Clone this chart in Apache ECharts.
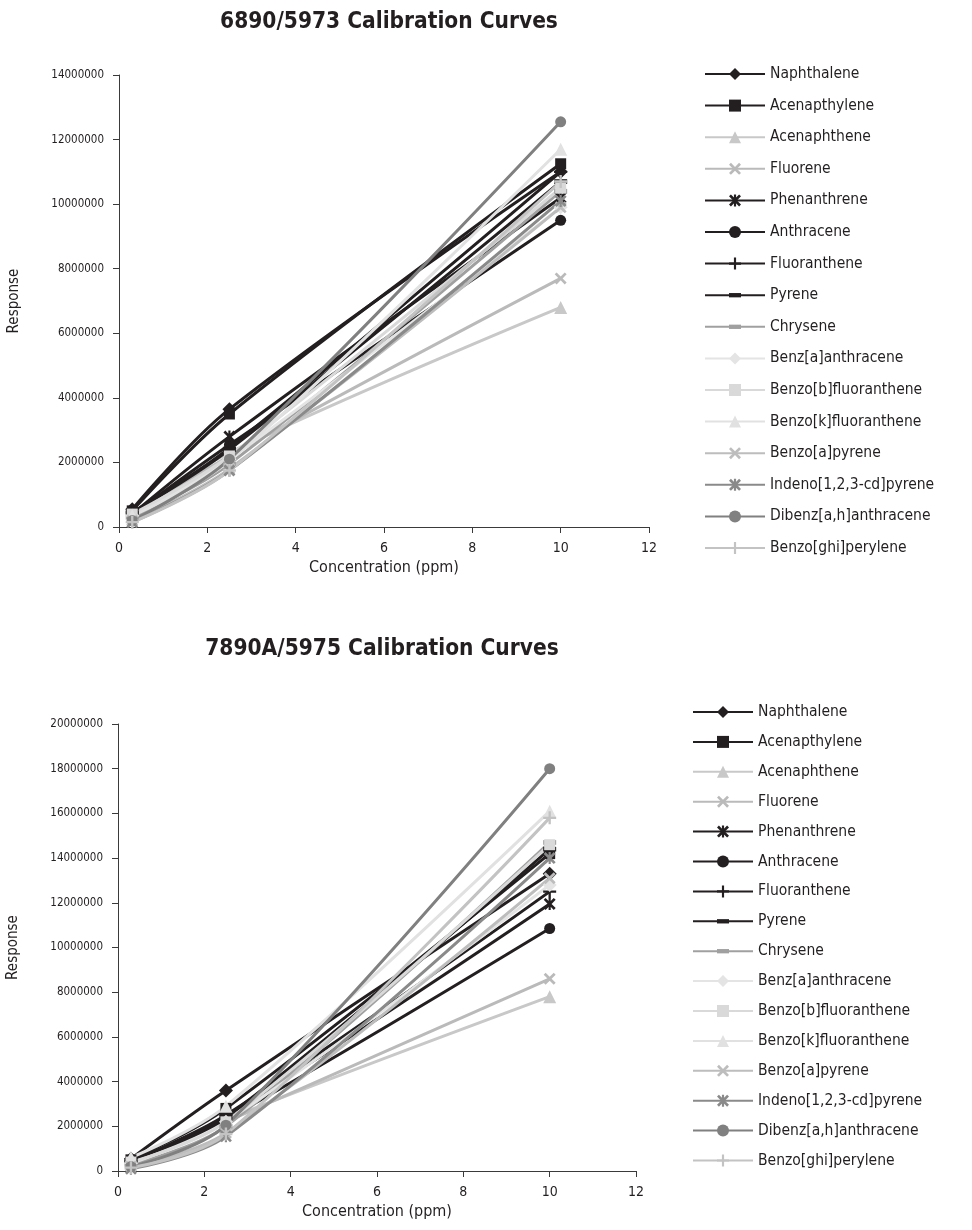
<!DOCTYPE html>
<html>
<head>
<meta charset="utf-8">
<script src="https://cdn.jsdelivr.net/npm/echarts@6/dist/echarts.min.js"></script>
<style>
html,body{margin:0;padding:0;background:#fff;}
#chart{width:972px;height:1230px;}
</style>
</head>
<body>
<div id="chart"></div>
<script>
// ---- data ----
const compounds = ["Naphthalene","Acenapthylene","Acenaphthene","Fluorene","Phenanthrene","Anthracene","Fluoranthene","Pyrene","Chrysene","Benz[a]anthracene","Benzo[b]fluoranthene","Benzo[k]fluoranthene","Benzo[a]pyrene","Indeno[1,2,3-cd]pyrene","Dibenz[a,h]anthracene","Benzo[ghi]perylene"];
const concentrations = [0.3, 2.5, 10];
// responses (one row per compound, values at each concentration)
const response6890 = [
  [550000, 3650000, 11000000],
  [500000, 3500000, 11250000],
  [350000, 2300000, 6800000],
  [300000, 2200000, 7700000],
  [400000, 2800000, 10200000],
  [380000, 2550000, 9500000],
  [450000, 2450000, 11000000],
  [450000, 2400000, 10700000],
  [300000, 1950000, 10400000],
  [350000, 2100000, 9900000],
  [400000, 2200000, 10500000],
  [350000, 2050000, 11700000],
  [200000, 1800000, 9900000],
  [150000, 1750000, 10100000],
  [200000, 2100000, 12550000],
  [150000, 1750000, 10700000]
];
const response7890 = [
  [550000, 3600000, 13300000],
  [500000, 2800000, 14200000],
  [350000, 2300000, 7800000],
  [300000, 2200000, 8600000],
  [400000, 2450000, 11950000],
  [350000, 2300000, 10850000],
  [450000, 2500000, 12500000],
  [450000, 2400000, 14400000],
  [300000, 2000000, 14700000],
  [350000, 2200000, 12800000],
  [400000, 2200000, 14600000],
  [600000, 2900000, 16100000],
  [200000, 1700000, 13100000],
  [100000, 1550000, 14000000],
  [200000, 2050000, 18000000],
  [150000, 1650000, 15800000]
];
const xTicks = [0, 2, 4, 6, 8, 10, 12];
const titles = ["6890/5973 Calibration Curves", "7890A/5975 Calibration Curves"];

// ---- styles ----
const SYM = {
  x: 'path://M0,1.6 L1.6,0 L5,3.4 L8.4,0 L10,1.6 L6.6,5 L10,8.4 L8.4,10 L5,6.6 L1.6,10 L0,8.4 L3.4,5 Z',
  ast: 'path://M0,1.6 L1.6,0 L5,3.4 L8.4,0 L10,1.6 L6.6,5 L10,8.4 L8.4,10 L5,6.6 L1.6,10 L0,8.4 L3.4,5 Z M4.1,0 L5.9,0 L5.9,10 L4.1,10 Z',
  plus: 'path://M4.1,0 L5.9,0 L5.9,4.1 L10,4.1 L10,5.9 L5.9,5.9 L5.9,10 L4.1,10 L4.1,5.9 L0,5.9 L0,4.1 L4.1,4.1 Z',
  dash: 'path://M0,0 M10,10 M0,3.2 L10,3.2 L10,6.8 L0,6.8 Z'
};
const BLACK = '#231f20';
const styles = [
  {c: BLACK, s: 'diamond', z: 14},
  {c: BLACK, s: 'rect', z: 11},
  {c: '#c8c8c8', s: 'triangle', z: 13},
  {c: '#bababa', s: SYM.x, z: 12},
  {c: BLACK, s: SYM.ast, z: 12},
  {c: BLACK, s: 'circle', z: 11},
  {c: BLACK, s: SYM.plus, z: 13},
  {c: BLACK, s: SYM.dash, z: 13},
  {c: '#a0a0a0', s: SYM.dash, z: 13},
  {c: '#e4e4e4', s: 'diamond', z: 14},
  {c: '#d9d9d9', s: 'rect', z: 11},
  {c: '#e1e1e1', s: 'triangle', z: 13},
  {c: '#bdbdbd', s: SYM.x, z: 12},
  {c: '#8a8a8a', s: SYM.ast, z: 12},
  {c: '#808080', s: 'circle', z: 11},
  {c: '#c3c3c3', s: SYM.plus, z: 13}
];

const FONT = '"Liberation Sans Narrow", "DejaVu Sans Condensed", "Liberation Sans", sans-serif';
const AX = '#3a3a3a';

const grids = [
  {left: 119, top: 75, width: 530, height: 452, outerBoundsMode: 'none', containLabel: false},
  {left: 118, top: 724, width: 518, height: 447, outerBoundsMode: 'none', containLabel: false}
];
const yMax = [14000000, 20000000];

function makeX(i) {
  return {
    type: 'value', gridIndex: i, min: xTicks[0], max: xTicks[xTicks.length - 1], interval: 2,
    name: 'Concentration (ppm)', nameLocation: 'middle', nameGap: 33,
    nameTextStyle: {fontFamily: FONT, fontSize: 16, color: '#231f20'},
    axisLine: {show: true, onZero: false, lineStyle: {color: AX, width: 1}},
    axisTick: {show: true, length: 6, lineStyle: {color: AX}},
    axisLabel: {fontFamily: FONT, fontSize: 14, color: '#231f20', margin: 14},
    splitLine: {show: false}
  };
}
function makeY(i) {
  return {
    type: 'value', gridIndex: i, min: 0, max: yMax[i], interval: 2000000,
    name: 'Response', nameLocation: 'middle', nameGap: 97,
    nameTextStyle: {fontFamily: FONT, fontSize: 15, color: '#231f20'},
    axisLine: {show: true, lineStyle: {color: AX, width: 1}},
    axisTick: {show: true, length: 6, lineStyle: {color: AX}},
    axisLabel: {fontFamily: FONT, fontSize: 11.5, color: '#231f20', margin: 15,
      formatter: function (v) { return String(v); }},
    splitLine: {show: false}
  };
}

const series = [];
[response6890, response7890].forEach((resp, gi) => {
  compounds.forEach((name, k) => {
    const st = styles[k];
    series.push({
      type: 'line', name: name, xAxisIndex: gi, yAxisIndex: gi,
      data: concentrations.map((x, j) => [x, resp[k][j]]),
      smooth: 0.35,
      symbol: st.s, symbolSize: st.z, symbolKeepAspect: false,
      showAllSymbol: true,
      lineStyle: {color: st.c, width: 3},
      itemStyle: {color: st.c, borderWidth: 0},
      emphasis: {disabled: true},
      animation: false
    });
  });
});

function makeLegend(left, top, gap) {
  return {
    orient: 'vertical', left: left, top: top,
    itemWidth: 60, itemHeight: 15, itemGap: gap,
    data: compounds,
    selectedMode: false,
    textStyle: {fontFamily: FONT, fontSize: 15.5, color: '#231f20', lineHeight: 20, padding: [0, 0, 0, 0]},
    inactiveColor: '#ccc'
  };
}

const chart = echarts.init(document.getElementById('chart'), null, {renderer: 'canvas'});
chart.setOption({
  backgroundColor: '#fff',
  animation: false,
  title: [
    {text: titles[0], left: 384, top: 6, textAlign: 'center',
     textStyle: {fontFamily: FONT, fontWeight: 'bold', fontSize: 22.5, color: '#231f20'}},
    {text: titles[1], left: 377, top: 633, textAlign: 'center',
     textStyle: {fontFamily: FONT, fontWeight: 'bold', fontSize: 22.5, color: '#231f20'}}
  ],
  legend: [makeLegend(699, 59, 11.6), makeLegend(687, 697, 9.9)],
  grid: grids,
  xAxis: [makeX(0), makeX(1)],
  yAxis: [makeY(0), makeY(1)],
  series: series
});
</script>
</body>
</html>
